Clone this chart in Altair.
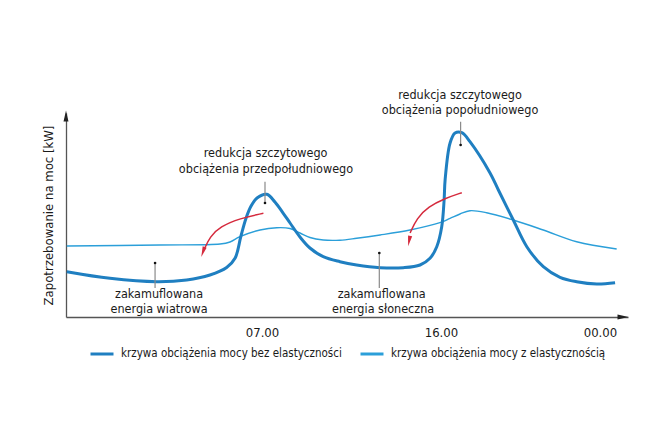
import altair as alt
import pandas as pd

FONT = "Liberation Sans Narrow, Arial Narrow, DejaVu Sans Condensed, Roboto, sans-serif"

S1 = "krzywa obciążenia mocy bez elastyczności"
S2 = "krzywa obciążenia mocy z elastycznością"

# hour of day (continuing past midnight) and load in arbitrary units
hours_rigid = [-2.82, -0.65, 1.70, 3.21, 4.38, 5.22, 5.65, 5.94, 6.20, 6.45, 6.75, 7.24,
               7.65, 8.06, 8.41, 8.91, 9.41, 10.08, 10.92, 11.76, 12.94, 14.11, 14.95,
               15.45, 15.79, 16.04, 16.16, 16.21, 16.46, 16.71, 17.05, 17.46, 18.47, 18.89,
               19.64, 20.32, 21.15, 21.99, 22.83, 23.84, 24.76]
load_rigid = [45.3, 38.7, 35.3, 37.0, 42.0, 49.5, 59.0, 81.0, 99.0, 111.0, 119.0, 122.7,
              115.0, 104.0, 94.0, 80.0, 69.0, 60.3, 55.3, 52.0, 49.3, 49.3, 52.0,
              58.7, 70.3, 90.3, 117.0, 137.0, 174.0, 184.0, 184.3, 175.3, 144.0, 127.0,
              97.0, 70.3, 50.3, 39.7, 35.3, 33.0, 34.3]

hours_flex = [-2.82, 1.87, 4.89, 5.39, 5.89, 6.90, 7.74, 8.41, 8.91, 9.41, 10.08, 10.92,
              11.76, 12.94, 14.44, 15.95, 16.46, 16.96, 17.46, 18.30, 19.64, 21.15, 22.83,
              24.84]
load_flex = [71.0, 72.0, 73.0, 75.0, 80.3, 87.0, 89.3, 88.5, 84.0, 79.5, 77.0, 76.8,
             78.7, 82.0, 87.0, 94.3, 98.7, 103.0, 106.3, 104.3, 97.0, 87.0, 75.3,
             68.0]

tick_values = [7, 16, 24]
tick_labels = ["07.00", "16.00", "00.00"]
x_domain = [-2.86, 25.41]
y_domain = [0, 204]

y_title = "Zapotrzebowanie na moc [kW]"

# annotation text lines: text, hour, level
note_text = ["redukcja szczytowego", "obciążenia przedpołudniowego",
             "redukcja szczytowego", "obciążenia popołudniowego",
             "zakamuflowana", "energia wiatrowa",
             "zakamuflowana", "energia słoneczna"]
note_x = [7.18, 7.2, 16.96, 16.96, 1.82, 1.82, 13.02, 13.09]
note_y = [164, 148, 222, 207, 23.5, 8.5, 23.5, 8.5]

# leader lines: hour, from level, to level (dot at the second level)
leader_x = [7.15, 16.99, 1.62, 12.90]
leader_y1 = [135.3, 195.3, 29.0, 29.0]
leader_y2 = [114.0, 172.0, 54.0, 64.0]

# red arrows (curve points)
arrow_id = [1, 1, 1, 1, 1, 2, 2, 2, 2, 2]
arrow_x = [7.07, 5.89, 4.89, 4.38, 4.10, 17.05, 16.21, 15.37, 14.78, 14.45]
arrow_y = [103.7, 98.7, 90.3, 80.3, 68.0, 124.3, 118.7, 110.3, 98.7, 84.0]
head_x = [4.03, 14.40]
head_y = [65.0, 76.0]
head_angle = [19, 11]

lines = pd.DataFrame(
    {"hour": hours_rigid + hours_flex,
     "load": load_rigid + load_flex,
     "series": [S1] * len(hours_rigid) + [S2] * len(hours_flex)}
)
notes = pd.DataFrame({"text": note_text, "x": note_x, "y": note_y})
leaders = pd.DataFrame({"x": leader_x, "y1": leader_y1, "y2": leader_y2})
arrows = pd.DataFrame({"id": arrow_id, "x": arrow_x, "y": arrow_y,
                       "idx": list(range(len(arrow_x)))})
heads = pd.DataFrame({"x": head_x, "y": head_y, "angle": head_angle})
y_head = pd.DataFrame({"x": [x_domain[0]], "y": [201.0]})
x_head = pd.DataFrame({"x": [25.16], "y": [0.0]})

label_expr = " : ".join(
    f"datum.value == {v} ? '{t}'" for v, t in zip(tick_values, tick_labels)
) + " : ''"

xs = alt.Scale(domain=x_domain, nice=False, zero=False)
ys = alt.Scale(domain=y_domain, nice=False, zero=False)

AXIS_COL = "#555555"
TXT = "#1a1a1a"
BLUE_D = "#1f7fc1"
BLUE_L = "#2b9fd9"
FS = 12.5

x_enc = alt.X("hour:Q", scale=xs,
              axis=alt.Axis(values=tick_values, labelExpr=label_expr, ticks=False,
                            grid=False, domainColor=AXIS_COL, domainWidth=1.3,
                            labelFontSize=13, labelFont=FONT, labelColor=TXT,
                            labelPadding=9, title=None))
y_enc = alt.Y("load:Q", scale=ys,
              axis=alt.Axis(labels=False, ticks=False, grid=False, domainColor=AXIS_COL,
                            domainWidth=1.3, title=y_title, titleFontSize=13,
                            titleFont=FONT, titleFontWeight="normal", titleColor=TXT,
                            titlePadding=11))
color_enc = alt.Color(
    "series:N", scale=alt.Scale(domain=[S1, S2], range=[BLUE_D, BLUE_L]),
    legend=alt.Legend(orient="none", legendX=23, legendY=228,
                      direction="horizontal", columns=2, title=None,
                      symbolType="stroke", symbolStrokeWidth=3,
                      symbolSize=529, labelFontSize=11.5, labelFont=FONT,
                      labelColor=TXT, columnPadding=12, labelOffset=6,
                      labelLimit=0))

line_base = alt.Chart(lines).encode(x=x_enc, y=y_enc, color=color_enc)
thick = line_base.transform_filter(alt.datum.series == S1).mark_line(
    interpolate="catmull-rom", strokeWidth=3)
thin = line_base.transform_filter(alt.datum.series == S2).mark_line(
    interpolate="catmull-rom", strokeWidth=1.4)

leader_rules = alt.Chart(leaders).mark_rule(color="#8a8a8a", strokeWidth=1.2).encode(
    x="x:Q", y="y1:Q", y2="y2:Q")
leader_dots = alt.Chart(leaders).mark_circle(color="#111111", size=7, opacity=1).encode(
    x="x:Q", y="y2:Q")

note_marks = alt.Chart(notes).mark_text(
    font=FONT, fontSize=FS, color=TXT, align="center", baseline="middle"
).encode(x="x:Q", y="y:Q", text="text:N")

arrow_lines = alt.Chart(arrows).mark_line(
    interpolate="basis", color="#d52a3d", strokeWidth=1.5
).encode(x="x:Q", y="y:Q", detail="id:N", order="idx:Q")
arrow_heads = alt.Chart(heads).mark_point(
    shape="M-0.4,-1L0.4,-1L0,1Z", filled=True, size=110, color="#d52a3d", opacity=1
).encode(x="x:Q", y="y:Q", angle=alt.Angle("angle:Q", scale=None))

y_arrow = alt.Chart(y_head).mark_point(
    shape="M0,-1L0.45,1L-0.45,1Z", filled=True, size=121, color="#222222", opacity=1
).encode(x="x:Q", y="y:Q")
x_arrow = alt.Chart(x_head).mark_point(
    shape="M1,0L-1,0.45L-1,-0.45Z", filled=True, size=121, color="#222222", opacity=1
).encode(x="x:Q", y="y:Q")

chart = alt.layer(
    thin, thick, leader_rules, leader_dots, note_marks, arrow_lines, arrow_heads,
    y_arrow, x_arrow
).properties(
    width=562, height=204,
    autosize=alt.AutoSizeParams(type="none"),
    padding={"left": 66, "top": 113, "right": 42, "bottom": 130},
    background="white",
).configure_view(stroke=None)

chart.save("out.html", embed_options={"renderer": "svg", "actions": False})
